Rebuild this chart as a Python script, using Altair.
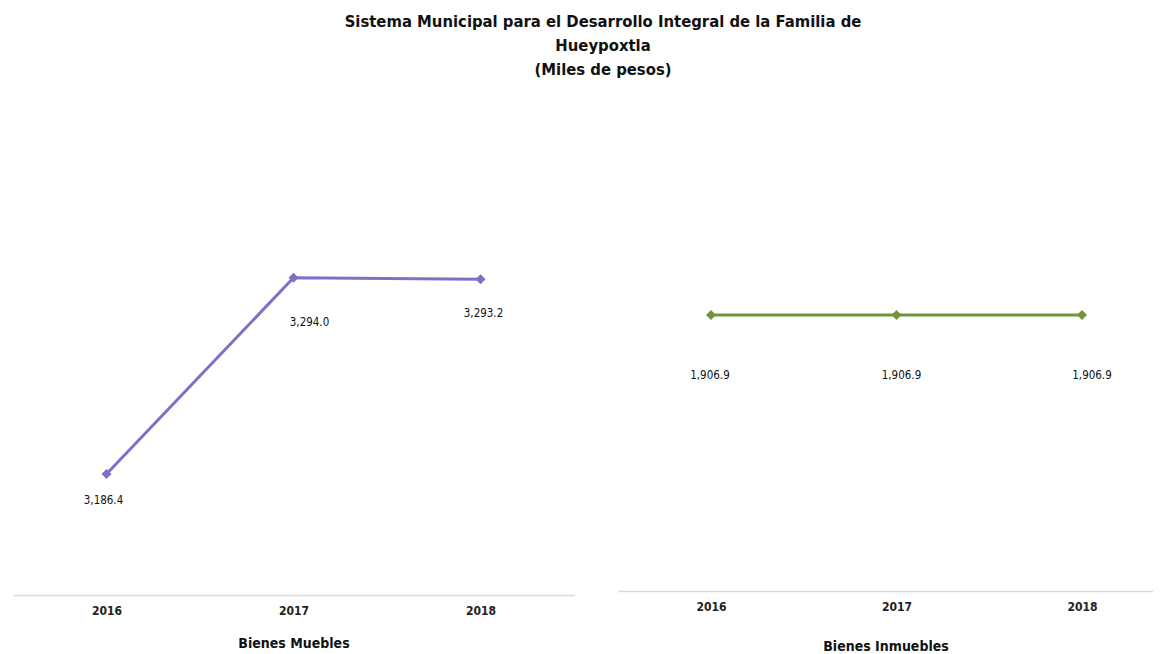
import altair as alt
import pandas as pd

years = ["2016", "2017", "2018"]
muebles = [3186.4, 3294.0, 3293.2]
inmuebles = [1906.9, 1906.9, 1906.9]
muebles_labels = ["3,186.4", "3,294.0", "3,293.2"]
inmuebles_labels = ["1,906.9", "1,906.9", "1,906.9"]

FONT = "Liberation Sans Narrow, DejaVu Sans Condensed, Arial Narrow, sans-serif"

# label offsets (style)
left_off = {"2016": (-3, 27), "2017": (16, 45), "2018": (3, 35)}
right_off = {"2016": (-1, 61), "2017": (5, 61), "2018": (10, 61)}


def panel(values, labels, color, title, domain, width, height, xscale, offsets, title_pad):
    df = pd.DataFrame({"year": years, "value": values, "label": labels})
    base = alt.Chart(df).encode(
        x=alt.X("year:N", scale=xscale, sort=years,
                axis=alt.Axis(title=title, labelAngle=0, ticks=False,
                              domainColor="#d9d9d9", domainWidth=1.5,
                              labelFont=FONT, labelFontSize=12, labelFontWeight="bold",
                              labelColor="#222222", labelPadding=10,
                              titleFont=FONT, titleFontSize=14, titleFontWeight="bold",
                              titleColor="#111111", titlePadding=title_pad)),
        y=alt.Y("value:Q", scale=alt.Scale(domain=domain, zero=False, nice=False), axis=None),
    )
    line = base.mark_line(color=color, strokeWidth=3)
    pts = base.mark_point(shape="diamond", filled=True, size=100, color=color, opacity=1)
    layers = [line, pts]
    for y in years:
        dx, dy = offsets[y]
        layers.append(
            base.transform_filter(alt.datum.year == y).mark_text(
                dx=dx, dy=dy, font=FONT, fontSize=11.5, color="#111111", baseline="middle"
            ).encode(text="label:N")
        )
    return alt.layer(*layers).properties(width=width, height=height)


left = panel(muebles, muebles_labels, "#7b72c8", "Bienes Muebles", [3120, 3391], 561, 494,
             alt.Scale(type="point", padding=0.5), left_off, 20)
right = panel(inmuebles, inmuebles_labels, "#77923c", "Bienes Inmuebles", [0, 3385], 535, 490,
              alt.Scale(type="point", padding=0.442, align=0.567), right_off, 27)

chart = alt.hconcat(left, right, spacing=44).properties(
    title=alt.TitleParams(
        ["Sistema Municipal para el Desarrollo Integral de la Familia de", "Hueypoxtla", "(Miles de pesos)"],
        anchor="middle", font=FONT, fontSize=16.5, fontWeight="bold", color="#111111",
        lineHeight=24, offset=23, dx=20,
    ),
    padding={"left": 5, "top": 5, "right": 0, "bottom": 5},
).configure(background="white", view=alt.ViewConfig(stroke="transparent", strokeWidth=0))

chart.save("out.html", embed_options={"renderer": "svg", "actions": False})
